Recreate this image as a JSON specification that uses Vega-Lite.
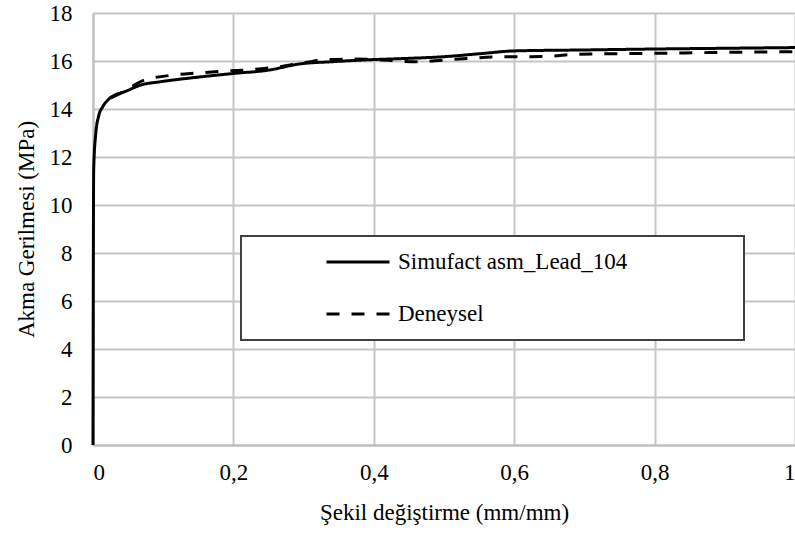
{
  "$schema": "https://vega.github.io/schema/vega-lite/v6.json",
  "width": 702,
  "height": 432,
  "autosize": {"type": "none"},
  "padding": {"left": 93, "top": 13, "right": 0, "bottom": 88},
  "background": "white",
  "config": {
    "view": {"stroke": null},
    "font": "Liberation Serif",
    "axis": {
      "labelFont": "Liberation Serif",
      "titleFont": "Liberation Serif",
      "labelColor": "black",
      "titleColor": "black",
      "labelFontSize": 23,
      "titleFontSize": 23,
      "titleFontWeight": "normal",
      "grid": true,
      "gridColor": "#c6c6c6",
      "gridWidth": 2,
      "domainColor": "#bdbdbd",
      "domainWidth": 2,
      "ticks": false
    }
  },
  "data": {
    "values": [
      {"series": "Simufact asm_Lead_104", "strain": 0, "stress": 0},
      {"series": "Simufact asm_Lead_104", "strain": 0.001, "stress": 11.5},
      {"series": "Simufact asm_Lead_104", "strain": 0.004, "stress": 13.0},
      {"series": "Simufact asm_Lead_104", "strain": 0.008, "stress": 13.7},
      {"series": "Simufact asm_Lead_104", "strain": 0.014, "stress": 14.1},
      {"series": "Simufact asm_Lead_104", "strain": 0.022, "stress": 14.4},
      {"series": "Simufact asm_Lead_104", "strain": 0.031, "stress": 14.58},
      {"series": "Simufact asm_Lead_104", "strain": 0.045, "stress": 14.72},
      {"series": "Simufact asm_Lead_104", "strain": 0.068, "stress": 15.0},
      {"series": "Simufact asm_Lead_104", "strain": 0.097, "stress": 15.14},
      {"series": "Simufact asm_Lead_104", "strain": 0.135, "stress": 15.28},
      {"series": "Simufact asm_Lead_104", "strain": 0.16, "stress": 15.36},
      {"series": "Simufact asm_Lead_104", "strain": 0.2, "stress": 15.48},
      {"series": "Simufact asm_Lead_104", "strain": 0.25, "stress": 15.62},
      {"series": "Simufact asm_Lead_104", "strain": 0.295, "stress": 15.88},
      {"series": "Simufact asm_Lead_104", "strain": 0.34, "stress": 15.97},
      {"series": "Simufact asm_Lead_104", "strain": 0.4, "stress": 16.06},
      {"series": "Simufact asm_Lead_104", "strain": 0.44, "stress": 16.1},
      {"series": "Simufact asm_Lead_104", "strain": 0.5, "stress": 16.18},
      {"series": "Simufact asm_Lead_104", "strain": 0.55, "stress": 16.3},
      {"series": "Simufact asm_Lead_104", "strain": 0.6, "stress": 16.42},
      {"series": "Simufact asm_Lead_104", "strain": 0.7, "stress": 16.46},
      {"series": "Simufact asm_Lead_104", "strain": 0.8, "stress": 16.5},
      {"series": "Simufact asm_Lead_104", "strain": 0.9, "stress": 16.53},
      {"series": "Simufact asm_Lead_104", "strain": 1.0, "stress": 16.56},
      {"series": "Deneysel", "strain": 0.025, "stress": 14.45},
      {"series": "Deneysel", "strain": 0.045, "stress": 14.75},
      {"series": "Deneysel", "strain": 0.071, "stress": 15.18},
      {"series": "Deneysel", "strain": 0.11, "stress": 15.4},
      {"series": "Deneysel", "strain": 0.15, "stress": 15.5},
      {"series": "Deneysel", "strain": 0.19, "stress": 15.58},
      {"series": "Deneysel", "strain": 0.23, "stress": 15.65},
      {"series": "Deneysel", "strain": 0.27, "stress": 15.78},
      {"series": "Deneysel", "strain": 0.305, "stress": 15.95},
      {"series": "Deneysel", "strain": 0.33, "stress": 16.05},
      {"series": "Deneysel", "strain": 0.37, "stress": 16.08},
      {"series": "Deneysel", "strain": 0.4, "stress": 16.06},
      {"series": "Deneysel", "strain": 0.46, "stress": 15.97},
      {"series": "Deneysel", "strain": 0.5, "stress": 16.04},
      {"series": "Deneysel", "strain": 0.535, "stress": 16.11},
      {"series": "Deneysel", "strain": 0.575, "stress": 16.17},
      {"series": "Deneysel", "strain": 0.62, "stress": 16.18},
      {"series": "Deneysel", "strain": 0.65, "stress": 16.2},
      {"series": "Deneysel", "strain": 0.69, "stress": 16.28},
      {"series": "Deneysel", "strain": 0.8, "stress": 16.32},
      {"series": "Deneysel", "strain": 0.9, "stress": 16.36},
      {"series": "Deneysel", "strain": 1.0, "stress": 16.39}
    ]
  },
  "mark": {"type": "line", "strokeWidth": 3, "color": "black", "interpolate": "monotone"},
  "encoding": {
    "x": {
      "field": "strain",
      "type": "quantitative",
      "scale": {"domain": [0, 1], "nice": false},
      "axis": {
        "values": [0, 0.2, 0.4, 0.6, 0.8, 1],
        "labelExpr": "replace(format(datum.value, '~g'), '.', ',')",
        "labelPadding": 16,
        "title": "Şekil değiştirme (mm/mm)",
        "titlePadding": 17
      }
    },
    "y": {
      "field": "stress",
      "type": "quantitative",
      "scale": {"domain": [0, 18], "nice": false},
      "axis": {
        "values": [0, 2, 4, 6, 8, 10, 12, 14, 16, 18],
        "labelPadding": 21,
        "title": "Akma Gerilmesi (MPa)",
        "titlePadding": 11
      }
    },
    "strokeDash": {
      "field": "series",
      "type": "nominal",
      "scale": {"domain": ["Simufact asm_Lead_104", "Deneysel"], "range": [[1, 0], [13, 12]]},
      "legend": {
        "title": null,
        "orient": "none",
        "legendX": 148,
        "legendY": 223,
        "strokeColor": "#404040",
        "fillColor": "white",
        "padding": 14,
        "symbolType": "M-3,0H3",
        "symbolSize": 441,
        "symbolStrokeWidth": 3,
        "symbolStrokeColor": "black",
        "symbolFillColor": "transparent",
        "symbolOffset": 91,
        "labelOffset": 28,
        "labelFont": "Liberation Serif",
        "labelFontSize": 23,
        "labelColor": "black",
        "labelLimit": 600,
        "rowPadding": 28,
        "labelExpr": "datum.label + '\u2800\u2800\u2800\u2800\u2800\u2800'",
        "encode": {"legend": {"update": {"strokeWidth": {"value": 2}}}}
      }
    }
  }
}
